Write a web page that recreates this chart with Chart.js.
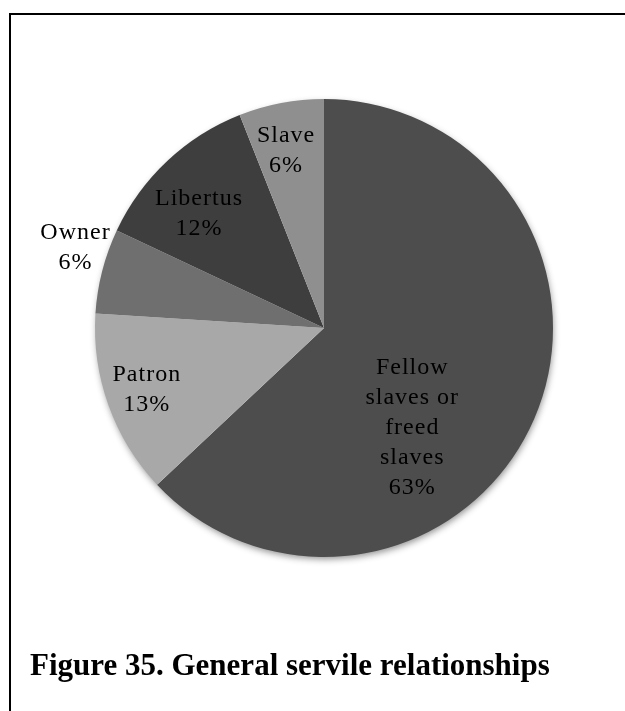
<!DOCTYPE html>
<html>
<head>
<meta charset="utf-8">
<script src="https://cdn.jsdelivr.net/npm/chart.js@4"></script>
<style>
	html, body { margin: 0; padding: 0; background: #fff; }
	#wrap { position: relative; width: 625px; height: 711px; overflow: hidden; }
	#frame { position: absolute; left: 9px; top: 13px; width: 700px; height: 800px;
		border-left: 2px solid #000; border-top: 2px solid #000; }
	#pie { position: absolute; left: 0; top: 0; }
	#caption { position: absolute; left: 30px; top: 645px; font-family: "Liberation Serif", "Times New Roman", serif;
		font-weight: bold; font-size: 31px; line-height: 40px; color: #000; white-space: nowrap; }
</style>
</head>
<body>
<div id="wrap">
	<div id="frame"></div>
	<canvas id="pie" width="625" height="711"></canvas>
	<div id="caption">Figure 35. General servile relationships</div>
</div>
<script>
// data, clockwise from 12 o'clock
const categories = ["Fellow slaves or freed slaves", "Patron", "Owner", "Libertus", "Slave"];
const shares = [63, 13, 6, 12, 6];
const labelLines = [
	["Fellow", "slaves or", "freed", "slaves"],
	["Patron"],
	["Owner"],
	["Libertus"],
	["Slave"]
];

const sliceColors = ["#4d4d4d", "#a8a8a8", "#6f6f6f", "#3e3e3e", "#8f8f8f"];
// where each label sits: fraction along the slice angle, fraction of the radius
const labelAlong = [0.61, 0.51, 0.66, 0.40, 0.44];
const labelRadius = [0.58, 0.82, 1.14, 0.74, 0.79];

// soft shadow under the whole pie
const pieShadow = {
	id: "pieShadow",
	beforeDatasetsDraw(chart) {
		const arc = chart.getDatasetMeta(0).data[0];
		const ctx = chart.ctx;
		ctx.save();
		ctx.shadowColor = "rgba(0,0,0,0.45)";
		ctx.shadowBlur = 7;
		ctx.shadowOffsetX = 1;
		ctx.shadowOffsetY = 3;
		ctx.fillStyle = "#fff";
		ctx.beginPath();
		ctx.arc(arc.x, arc.y, arc.outerRadius - 1, 0, Math.PI * 2);
		ctx.fill();
		ctx.restore();
	}
};

// category + percent labels
const sliceLabels = {
	id: "sliceLabels",
	afterDatasetsDraw(chart) {
		const ctx = chart.ctx;
		const total = shares.reduce((a, b) => a + b, 0);
		ctx.save();
		ctx.font = "24px 'Liberation Serif', 'Times New Roman', serif";
		ctx.letterSpacing = "1px";
		ctx.fillStyle = "#000";
		ctx.textAlign = "center";
		ctx.textBaseline = "middle";
		chart.getDatasetMeta(0).data.forEach((arc, i) => {
			const a = arc.startAngle + (arc.endAngle - arc.startAngle) * labelAlong[i];
			const r = arc.outerRadius * labelRadius[i];
			const lines = labelLines[i].concat([Math.round(shares[i] / total * 100) + "%"]);
			const lh = 30;
			const cx = arc.x + Math.cos(a) * r;
			const cy = arc.y + Math.sin(a) * r - (lines.length - 1) * lh / 2;
			lines.forEach((t, k) => ctx.fillText(t, cx, cy + k * lh));
		});
		ctx.restore();
	}
};

new Chart(document.getElementById("pie"), {
	type: "pie",
	data: {
		labels: categories,
		datasets: [{
			data: shares,
			backgroundColor: sliceColors,
			borderWidth: 0,
			hoverOffset: 0
		}]
	},
	options: {
		responsive: false,
		animation: false,
		layout: { padding: { left: 95, right: 72, top: 99, bottom: 154 } },
		plugins: {
			legend: { display: false },
			tooltip: { enabled: false }
		}
	},
	plugins: [pieShadow, sliceLabels]
});
</script>
</body>
</html>
